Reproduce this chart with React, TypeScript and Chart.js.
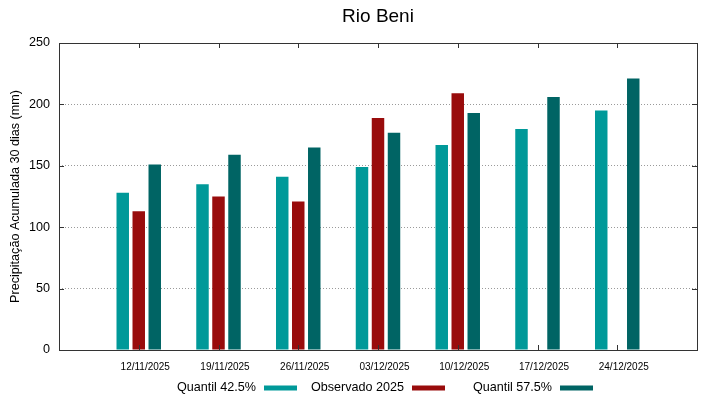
import React, { useEffect, useRef } from "react";
import { Chart, registerables } from "chart.js";

Chart.register(...registerables);

const categories = [
  "12/11/2025",
  "19/11/2025",
  "26/11/2025",
  "03/12/2025",
  "10/12/2025",
  "17/12/2025",
  "24/12/2025",
];
const quantil425 = [128, 135, 141, 149, 167, 180, 195];
const observado2025: (number | null)[] = [113, 125, 121, 189, 209, null, null];
const quantil575 = [151, 159, 165, 177, 193, 206, 221];
const yTicks = [0, 50, 100, 150, 200, 250];

const seriesNames = ["Quantil 42.5%", "Observado 2025", "Quantil 57.5%"];
const seriesColors = ["#009999", "#990c0c", "#006464"];

const FONT = "'Liberation Sans', Arial, Helvetica, sans-serif";

const toPoints = (arr: (number | null)[]) =>
  arr
    .map((v, i) => (v === null ? null : { x: i, y: v }))
    .filter((p) => p !== null) as { x: number; y: number }[];

const framePlugin = {
  id: "gnuplotFrame",
  afterDatasetsDraw(chart: any) {
    const { ctx, chartArea } = chart;
    const { left, right, top, bottom } = chartArea;
    const xs = chart.scales.x;
    const ys = chart.scales.y;
    ctx.save();
    ctx.strokeStyle = "#333333";
    ctx.lineWidth = 1;
    // ticks
    ctx.beginPath();
    yTicks.forEach((v) => {
      if (v === yTicks[0] || v === yTicks[yTicks.length - 1]) return;
      const y = Math.round(ys.getPixelForValue(v)) + 0.5;
      ctx.moveTo(left, y);
      ctx.lineTo(left + 5, y);
      ctx.moveTo(right, y);
      ctx.lineTo(right - 5, y);
    });
    categories.forEach((_, i) => {
      const x = Math.round(xs.getPixelForValue(i)) + 0.5;
      ctx.moveTo(x, bottom);
      ctx.lineTo(x, bottom - 5);
      ctx.moveTo(x, top);
      ctx.lineTo(x, top + 5);
    });
    ctx.stroke();
    // border
    ctx.strokeRect(
      Math.round(left) + 0.5,
      Math.round(top) + 0.5,
      Math.round(right - left),
      Math.round(bottom - top)
    );
    ctx.restore();
  },
  afterDraw(chart: any) {
    const { ctx } = chart;
    const colWidth = 148;
    const firstTextRight = 256;
    const y = 391;
    ctx.save();
    ctx.font = `12.6px ${FONT}`;
    ctx.fillStyle = "#000000";
    ctx.textAlign = "right";
    ctx.textBaseline = "alphabetic";
    seriesNames.forEach((name, i) => {
      const tr = firstTextRight + colWidth * i;
      ctx.fillText(name, tr, y);
      ctx.fillStyle = seriesColors[i];
      ctx.fillRect(tr + 8, y - 5.5, 33, 5);
      ctx.fillStyle = "#000000";
    });
    ctx.restore();
  },
};

export default function App() {
  const canvasRef = useRef<HTMLCanvasElement | null>(null);

  useEffect(() => {
    document.body.style.margin = "0";
    const canvas = canvasRef.current;
    if (!canvas) return;
    const data = [quantil425, observado2025, quantil575];
    const chart = new Chart(canvas, {
      type: "bar",
      data: {
        datasets: seriesNames.map((name, i) => ({
          label: name,
          data: toPoints(data[i]),
          backgroundColor: seriesColors[i],
          borderWidth: 0,
          categoryPercentage: 0.602,
          barPercentage: 0.78,
        })),
      },
      options: {
        animation: false,
        responsive: false,
        maintainAspectRatio: false,
        layout: { padding: { left: 0, right: 22, top: 0, bottom: 0 } },
        plugins: {
          legend: { display: false },
          tooltip: { enabled: false },
          title: {
            display: true,
            text: "Rio Beni",
            fullSize: false,
            color: "#000000",
            font: { family: FONT, size: 19, weight: "normal" },
            padding: { top: 5, bottom: 15.2 },
          },
        },
        scales: {
          x: {
            type: "linear",
            min: -1,
            max: 7,
            offset: false,
            grid: { display: false, drawTicks: false },
            border: { display: false },
            afterFit: (scale: any) => {
              scale.height = 49;
            },
            afterBuildTicks: (scale: any) => {
              scale.ticks = categories.map((_, i) => ({ value: i }));
            },
            ticks: {
              autoSkip: false,
              maxRotation: 0,
              minRotation: 0,
              padding: 11,
              labelOffset: 6.5,
              color: "#000000",
              font: { family: FONT, size: 10 },
              callback: (v: any) => categories[v as number] ?? "",
            },
          },
          y: {
            min: 0,
            max: 250,
            afterFit: (scale: any) => {
              scale.width = 59;
            },
            afterBuildTicks: (scale: any) => {
              scale.ticks = yTicks.map((v) => ({ value: v }));
            },
            grid: {
              drawTicks: false,
              color: (c: any) =>
                c.tick && (c.tick.value === 0 || c.tick.value === 250)
                  ? "rgba(0,0,0,0)"
                  : "#9a9a9a",
              lineWidth: 1,
            },
            border: { display: false, dash: [1, 2] },
            ticks: {
              padding: 9,
              color: "#000000",
              font: { family: FONT, size: 12.6 },
            },
            title: {
              display: true,
              text: "Precipitação Acumulada 30 dias (mm)",
              color: "#000000",
              font: { family: FONT, size: 12.6 },
              padding: { top: 8, bottom: 0 },
            },
          },
        },
      },
      plugins: [framePlugin],
    });
    return () => chart.destroy();
  }, []);

  return (
    <div style={{ width: 719, height: 399, background: "#ffffff" }}>
      <canvas ref={canvasRef} width={719} height={399} style={{ display: "block" }} />
    </div>
  );
}
